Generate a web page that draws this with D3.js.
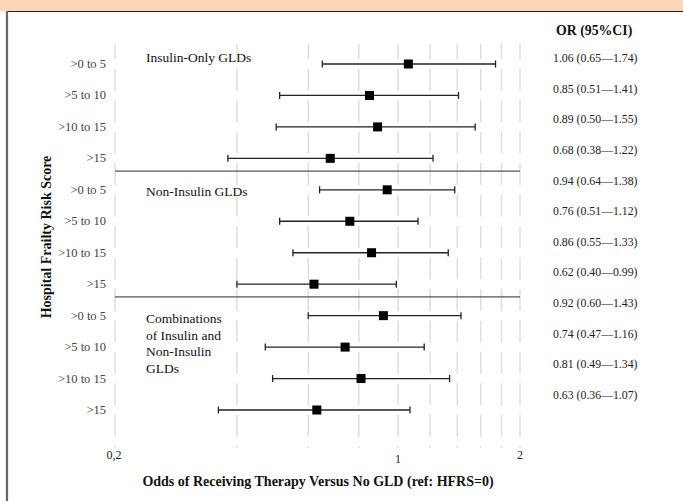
<!DOCTYPE html>
<html>
<head>
<meta charset="utf-8">
<script src="https://cdn.jsdelivr.net/npm/d3@7"></script>
<style>
  body { margin: 0; background: #fff; }
  svg text { font-family: "Liberation Serif", "Times New Roman", serif; }
</style>
</head>
<body>
<div id="main"></div>
<script>
var width = 683, height = 501;

// data
var groupLines = [["Insulin-Only GLDs"], ["Non-Insulin GLDs"], ["Combinations", "of Insulin and", "Non-Insulin", "GLDs"]];
var scoreBands = [">0 to 5", ">5 to 10", ">10 to 15", ">15"];
var orValues = [1.06, 0.85, 0.89, 0.68, 0.94, 0.76, 0.86, 0.62, 0.92, 0.74, 0.81, 0.63];
var lowerCI  = [0.65, 0.51, 0.50, 0.38, 0.64, 0.51, 0.55, 0.40, 0.60, 0.47, 0.49, 0.36];
var upperCI  = [1.74, 1.41, 1.55, 1.22, 1.38, 1.12, 1.33, 0.99, 1.43, 1.16, 1.34, 1.07];
var gridTicks = [0.2, 0.4, 0.6, 0.8, 1, 1.2, 1.4, 1.6, 1.8, 2];
var tickLabels = [{v: 0.2, t: "0,2"}, {v: 1, t: "1"}, {v: 2, t: "2"}];

var rows = orValues.map(function(d, i) {
  return {id: i, group: Math.floor(i / 4), band: scoreBands[i % 4], or: d, lo: lowerCI[i], hi: upperCI[i]};
});

var svg = d3.select("#main").append("svg")
    .attr("width", width)
    .attr("height", height);

// header strip + frame
svg.append("rect").attr("x", 0).attr("y", 0).attr("width", width).attr("height", 11).attr("fill", "#fbd6b6");
svg.append("line").attr("x1", 6).attr("x2", width).attr("y1", 11.5).attr("y2", 11.5).attr("stroke", "#222").attr("stroke-width", 1.2);
svg.append("line").attr("x1", 7).attr("x2", 7).attr("y1", 11).attr("y2", height).attr("stroke", "#666").attr("stroke-width", 2.2);

var x = d3.scaleLog().domain([0.2, 2]).range([115, 520]);
var y = d3.scalePoint().domain(d3.range(12)).range([64, 410]);
var yOr = d3.scalePoint().domain(d3.range(12)).range([62, 399]);   // table column sits a bit higher
var step = y.step();

// dashed vertical grid, gaps at the rows
var gTop = 44, gBot = 448, gap = 9.5;
var dash = step - gap;
var firstDash = (y(0) - gap / 2) - gTop;
svg.append("g").selectAll("line").data(gridTicks).enter().append("line")
    .attr("x1", d => x(d)).attr("x2", d => x(d))
    .attr("y1", gTop).attr("y2", gBot)
    .attr("stroke", "#e0e0e0")
    .attr("stroke-width", 1.6)
    .attr("stroke-dasharray", dash + "," + gap)
    .attr("stroke-dashoffset", dash - firstDash);

// group separators
svg.append("g").selectAll("line").data([3, 7]).enter().append("line")
    .attr("x1", x(0.2)).attr("x2", x(2))
    .attr("y1", d => (y(d) + y(d + 1)) / 2 - 3)
    .attr("y2", d => (y(d) + y(d + 1)) / 2 - 3)
    .attr("stroke", "#555").attr("stroke-width", 1.3);

// row labels
svg.append("g").selectAll("text").data(rows).enter().append("text")
    .attr("x", 106).attr("y", d => y(d.id) + 4)
    .attr("text-anchor", "end")
    .attr("font-size", 12.5)
    .attr("fill", "#444")
    .text(d => d.band);

// group labels
var groupY = [62, 196, 323];
groupLines.forEach(function(lines, g) {
  var t = svg.append("text")
      .attr("x", 146)
      .attr("y", groupY[g])
      .attr("font-size", 13.5)
      .attr("fill", "#111");
  lines.forEach(function(l, k) {
    t.append("tspan").attr("x", 146).attr("dy", k === 0 ? 0 : 16.5).text(l);
  });
});

// whiskers
var ci = svg.append("g").selectAll("g").data(rows).enter().append("g");
ci.append("line")
    .attr("x1", d => x(d.lo)).attr("x2", d => x(d.hi))
    .attr("y1", d => y(d.id)).attr("y2", d => y(d.id))
    .attr("stroke", "#222").attr("stroke-width", 1.3);
ci.selectAll(".cap").data(d => [{v: d.lo, id: d.id}, {v: d.hi, id: d.id}]).enter().append("line")
    .attr("class", "cap")
    .attr("x1", d => x(d.v)).attr("x2", d => x(d.v))
    .attr("y1", d => y(d.id) - 3.5).attr("y2", d => y(d.id) + 3.5)
    .attr("stroke", "#222").attr("stroke-width", 1.3);
ci.append("rect")
    .attr("x", d => x(d.or) - 4.5).attr("y", d => y(d.id) - 4.5)
    .attr("width", 9).attr("height", 9)
    .attr("fill", "#000");

// OR column
svg.append("text").attr("x", 556).attr("y", 35)
    .attr("font-size", 13.8).attr("font-weight", "bold").attr("fill", "#111")
    .text("OR (95%CI)");
svg.append("g").selectAll("text").data(rows).enter().append("text")
    .attr("x", 553)
    .attr("y", d => yOr(d.id))
    .attr("font-size", 11.8)
    .attr("fill", "#222")
    .text(d => d3.format(".2f")(d.or) + " (" + d3.format(".2f")(d.lo) + "\u2014" + d3.format(".2f")(d.hi) + ")");

// x tick labels
svg.append("g").selectAll("text").data(tickLabels).enter().append("text")
    .attr("x", d => x(d.v) + (d.v === 0.2 ? -1 : 0))
    .attr("y", d => d.v === 1 ? 463 : 459)
    .attr("text-anchor", "middle")
    .attr("font-size", 12)
    .attr("fill", "#222")
    .text(d => d.t);

// axis titles
svg.append("text").attr("x", 318).attr("y", 486)
    .attr("text-anchor", "middle")
    .attr("font-size", 14).attr("font-weight", "bold").attr("fill", "#111")
    .text("Odds of Receiving Therapy Versus No GLD (ref: HFRS=0)");
svg.append("text")
    .attr("transform", "translate(51,237) rotate(-90)")
    .attr("text-anchor", "middle")
    .attr("font-size", 14).attr("font-weight", "bold").attr("fill", "#111")
    .text("Hospital Frailty Risk Score");
</script>
</body>
</html>
